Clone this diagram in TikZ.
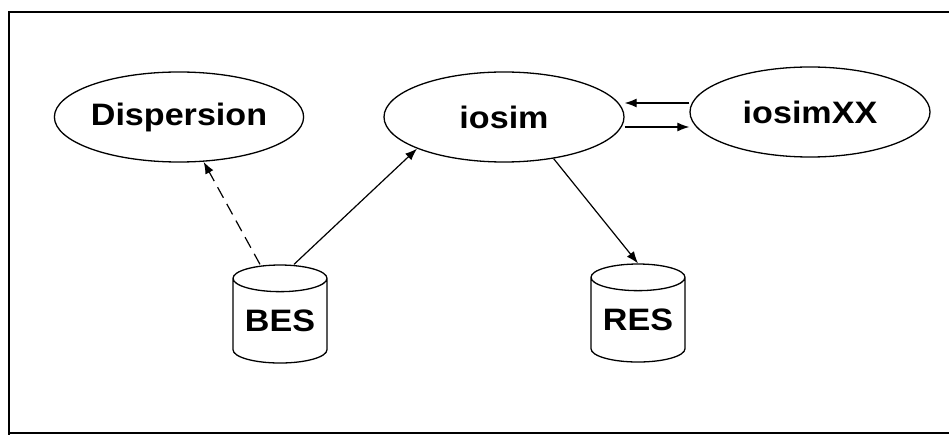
\documentclass[tikz,border=0pt]{standalone}
\usepackage{fontspec}
\setmainfont{Liberation Sans}
\usetikzlibrary{shapes.geometric,arrows.meta}

\newcommand{\wtext}[1]{\scalebox{1.1}[1]{\bfseries #1}}

\begin{document}
\begin{tikzpicture}[x=1pt,y=-1pt,
    font=\fontsize{31}{36}\selectfont,
    prog/.style={draw, line width=1.3pt, ellipse, minimum width=240pt, minimum height=90pt, inner sep=0pt},
    store/.style={draw, line width=1.3pt, cylinder, shape border rotate=90, aspect=0.38,
        minimum width=94pt, minimum height=98pt, inner sep=0pt},
    link/.style={line width=1.2pt, -{Latex[length=12pt,width=9pt]}}]
            \useasboundingbox (0,0) rectangle (949,435);
            \draw[line width=2pt] (949,12) -- (9,12) -- (9,435);
            \draw[line width=1.5pt] (9,433) -- (949,433);

            \node[prog] (Disp) at (179,117) {\wtext{Dispersion}};
            \node[prog] (iosim) at (504,117) {\wtext{iosim}};
            \node[prog] (iosimXX) at (810,112) {\wtext{iosimXX}};
            \node[store] (BES) at (280,321) {\wtext{BES}};
            \node[store] (RES) at (638,320) {\wtext{RES}};

            \draw[link, dashed, dash pattern=on 12pt off 7pt] ([xshift=-20pt]BES.north) -- (Disp);
            \draw[link] ([xshift=14pt]BES.north) -- (iosim.200);
            \draw[link] (iosim.320) -- (RES.north);

            \draw[link] ([yshift=9pt]iosimXX.west) -- ([yshift=9pt]iosimXX.west -| iosim.east);
            \draw[link] ([yshift=-15pt]iosimXX.west -| iosim.east) -- ([yshift=-15pt]iosimXX.west);
        \end{tikzpicture}
\end{document}
